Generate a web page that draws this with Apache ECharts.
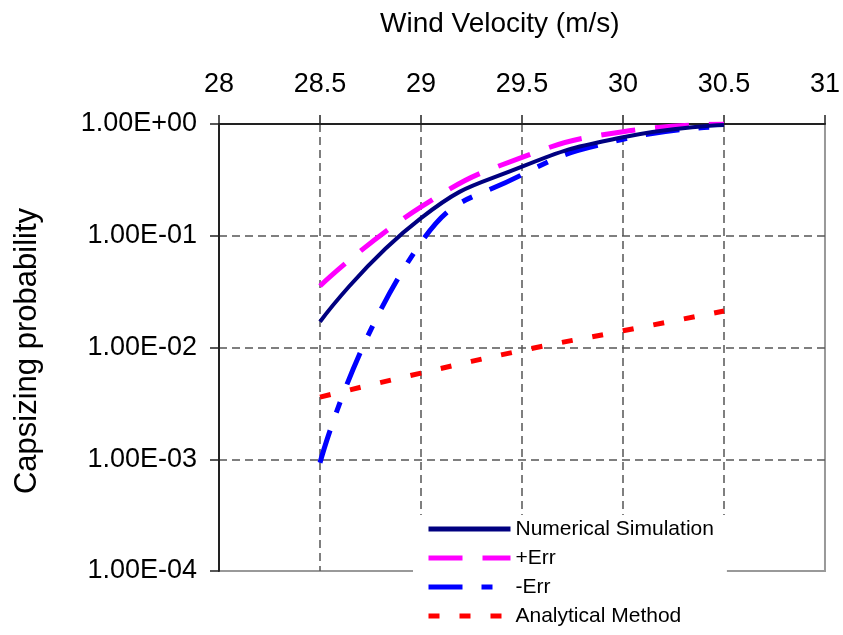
<!DOCTYPE html>
<html>
<head>
<meta charset="utf-8">
<script src="https://cdn.jsdelivr.net/npm/echarts@6/dist/echarts.min.js"></script>
<style>
html,body{margin:0;padding:0;background:#fff;}
#chart{width:843px;height:635px;}
</style>
</head>
<body>
<div id="chart"></div>
<script>
// ---- data ----
const windVelocity = [28.5, 29, 29.5, 30, 30.5];
const numericalSimulation = [0.0170, 0.144, 0.415, 0.76, 0.98];
const plusErr = [0.0355, 0.181, 0.503, 0.853, 1.0];
const minusErr = [0.00093, 0.087, 0.352, 0.73, 0.95];
const analyticalMethod = [0.0036, 0.0059, 0.0094, 0.0141, 0.0212];
const seriesNames = ['Numerical Simulation', '+Err', '-Err', 'Analytical Method'];
const yTickLabels = ['1.00E-04', '1.00E-03', '1.00E-02', '1.00E-01', '1.00E+00'];
const xTitle = 'Wind Velocity (m/s)';
const yTitle = 'Capsizing probability';

const FONT = '"Liberation Sans", Arial, sans-serif';
const pairs = arr => windVelocity.map((x, i) => [x, arr[i]]);

const chart = echarts.init(document.getElementById('chart'), null, {renderer: 'canvas'});
const gridDash = {type: [8, 5], color: '#555', width: 1.5};

chart.setOption({
  backgroundColor: '#fff',
  animation: false,
  title: {
    text: xTitle, left: 380, top: 10, padding: 0,
    textStyle: {fontFamily: FONT, fontSize: 28, fontWeight: 'normal', color: '#000'}
  },
  graphic: [{
    type: 'text', x: 27, y: 351, rotation: Math.PI / 2,
    style: {text: yTitle, font: '31px ' + FONT, fill: '#000', align: 'center', verticalAlign: 'middle'}
  }],
  grid: {left: 219, top: 124, right: 18, bottom: 64, show: true, borderColor: '#999', borderWidth: 2},
  xAxis: {
    type: 'value', position: 'top', min: 28, max: 31, interval: 0.5,
    axisLine: {show: true, lineStyle: {color: '#222', width: 2}},
    axisTick: {show: true, inside: false, length: 9, lineStyle: {color: '#222', width: 1.5}},
    axisLabel: {fontFamily: FONT, fontSize: 27, color: '#000', margin: 26},
    splitLine: {show: true, showMinLine: false, showMaxLine: false, lineStyle: gridDash}
  },
  yAxis: {
    type: 'log', logBase: 10, min: 1e-4, max: 1, position: 'left',
    axisLine: {show: true, lineStyle: {color: '#222', width: 2}},
    axisTick: {show: true, inside: false, length: 9, lineStyle: {color: '#222', width: 1.5}},
    axisLabel: {
      fontFamily: FONT, fontSize: 27, color: '#000', margin: 22,
      formatter: v => yTickLabels[Math.round(Math.log10(v)) + 4]
    },
    minorTick: {show: false},
    splitLine: {show: true, showMinLine: false, showMaxLine: false, lineStyle: gridDash}
  },
  legend: {
    orient: 'vertical', left: 413, top: 515,
    backgroundColor: '#fff', padding: [3, 13, 3, 13],
    itemWidth: 82, itemHeight: 14, itemGap: 7,
    selectedMode: false,
    textStyle: {fontFamily: FONT, fontSize: 21, color: '#000', lineHeight: 22},
    lineStyle: {width: 5, type: 'inherit'},
    itemStyle: {opacity: 0, borderWidth: 0},
    data: seriesNames
  },
  series: [
    {name: seriesNames[0], type: 'line', data: pairs(numericalSimulation), smooth: true, symbol: 'none',
     lineStyle: {color: '#000080', width: 4}, itemStyle: {color: '#000080'}, z: 5},
    {name: seriesNames[1], type: 'line', data: pairs(plusErr), smooth: true, symbol: 'none',
     lineStyle: {color: '#FF00FF', width: 5, type: [34, 20]}, itemStyle: {color: '#FF00FF'}, z: 4},
    {name: seriesNames[2], type: 'line', data: pairs(minusErr), smooth: true, symbol: 'none',
     lineStyle: {color: '#0000FF', width: 5, type: [34, 19, 11, 19]}, itemStyle: {color: '#0000FF'}, z: 4},
    {name: seriesNames[3], type: 'line', data: pairs(analyticalMethod), smooth: true, symbol: 'none',
     lineStyle: {color: '#FF0000', width: 5, type: [11, 20]}, itemStyle: {color: '#FF0000'}, z: 3}
  ]
});
</script>
</body>
</html>
